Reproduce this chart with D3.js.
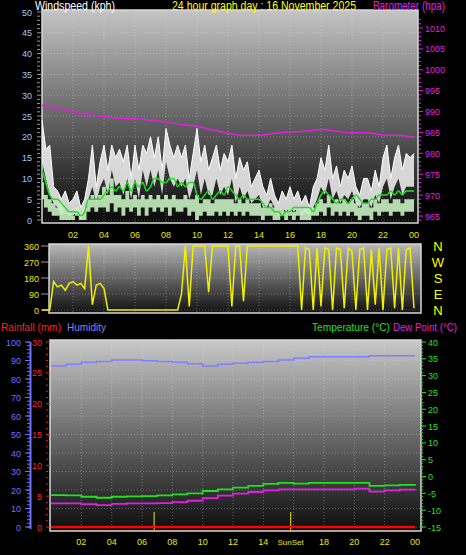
<!DOCTYPE html><html><head><script src="https://cdn.jsdelivr.net/npm/d3@7"></script>
<style>body{margin:0;background:#000}</style></head><body><svg id="c" width="466" height="555"></svg>
<script>
const hourTicks=["02","04","06","08","10","12","14","16","18","20","22","00"];
const gust=[24,17,18,8, 7,5,7,4, 5,7,3,5, 10,18,8,14, 18,12,18,15, 17,14,18,10, 18,12,18,16, 20,15,20,12, 22,18,15,18, 15,18,10,16, 22,14,18,12, 15,18,12,16, 14,18,10,15, 12,14,8,10, 12,8,6,10, 6,4,7,5, 8,5,7,4, 6,3,8,10, 15,12,18,10, 13,8,12,10, 13,8,6,10, 10,7,12,8, 15,18,10,15, 18,12,16,15,16];
const gustLow=[14,10,6,4, 3,1,2,1, 1,2,0,2, 5,8,4,8, 10,6,12,8, 9,6,10,5, 10,5,12,8, 12,8,12,6, 14,10,8,10, 8,10,5,8, 12,6,10,6, 6,10,6,8, 6,10,4,8, 5,7,4,5, 6,3,3,5, 3,1,3,2, 3,2,3,1, 2,1,3,5, 8,6,10,5, 7,4,6,5, 7,4,3,5, 5,3,6,4, 8,10,5,8, 10,6,8,8,8];
const avgHi=[9,6,5,4, 3,4,2,2, 1,3,1,3, 5,6,5,6, 8,6,10,6, 6,5,7,5, 6,5,6,5, 6,5,6,5, 6,5,6,5, 5,6,5,5, 6,4,5,5, 4,5,5,5, 5,5,4,5, 4,5,4,4, 4,3,3,4, 3,2,3,2, 3,2,3,2, 3,2,3,4, 5,4,6,4, 5,4,5,4, 5,4,3,4, 4,3,5,4, 5,5,4,5, 5,4,5,5,5];
const avgLo=[5,3,2,1, 1,0,0,0, 0,1,0,0, 2,3,2,3, 3,2,4,2, 3,1,3,2, 3,1,3,1, 3,2,3,2, 3,1,3,2, 2,3,1,2, 0,1,2,1, 1,2,1,2, 1,2,1,2, 1,2,1,1, 1,0,1,1, 0,0,1,0, 1,0,1,0, 0,0,1,1, 2,1,3,1, 2,1,2,1, 2,1,0,1, 1,0,2,1, 2,2,1,2, 2,1,2,2,2];
const windAvg=[12,9,6,5, 5,4,3,2, 2,2,1,2, 5,5,5,5, 6,7,8,7, 8,7,9,7, 9,8,9,7, 8,10,10,9, 9,10,10,8, 9,8,9,9, 6,5,6,7, 5,6,7,6, 8,7,6,5, 6,5,5,5, 5,4,3,3, 2,2,1,2, 2,3,3,3, 3,3,2,4, 6,7,6,5, 4,5,5,4, 5,6,5,4, 4,5,5,6, 6,6,7,6, 7,6,7,7,7];
const baro=[991.5,990.7,990,989.3,988.8,988.4,988.3,988,987.5,986.9,986.5,985.6,984.8,984.3,984.3,984.8,985.1,985.3,985.7,985.3,984.9,984.9,984.4,984.3,983.8];
const wdir=[0,0,0,160,130,140,110,150,160,140,150,120,360,30,140,150,120,0,0,0,0,0,0,0,0,0,0,0,0,0,0,0,0,0,0,0,90,360,20,360,360,360,360,100,360,360,360,360,360,20,360,360,50,360,360,360,360,360,360,360,360,360,360,360,360,360,360,0,350,340,0,350,20,350,340,0,350,340,10,350,330,0,340,350,0,340,30,350,0,340,350,10,350,0,340,350,10];
const hum=[87,88,89,89.5,90.3,90.3,89.8,89.5,89,88.3,87,88,88.5,89,89.5,90.3,91.2,92,92,92,92,92.6,92.6,92.6,92.6];
const temp=[-5.5,-5.6,-6.0,-6.3,-6.0,-5.9,-5.8,-5.6,-5.3,-5.0,-4.3,-3.8,-3.3,-2.8,-2.2,-1.9,-2.1,-1.9,-1.9,-1.9,-1.9,-2.8,-2.6,-2.5,-2.2];
const dew=[-8,-8,-8.2,-8.5,-8.1,-8,-8,-7.9,-7.6,-7.2,-6.4,-5.7,-5.1,-4.6,-4.1,-3.8,-3.8,-3.8,-3.8,-3.8,-3.6,-4.5,-4.1,-3.9,-3.8];
const rain=[0,0,0,0,0,0,0,0,0,0,0,0,0,0,0,0,0,0,0,0,0,0,0,0,0];
const sunTimes=[6.8,15.8];

const svg=d3.select("#c");
const F="Arial, 'Liberation Sans', sans-serif";
const defs=svg.append("defs");
function grad(id,top,bot){const g=defs.append("linearGradient").attr("id",id).attr("x1",0).attr("y1",0).attr("x2",0).attr("y2",1);
g.append("stop").attr("offset",0).attr("stop-color",top);g.append("stop").attr("offset",1).attr("stop-color",bot);}
grad("g1","#c4c4c4","#080808");grad("g2","#b8b8b8","#101010");grad("g3","#c8c8c8","#0c0c0c");
function panel(x0,x1,y0,y1,gid){svg.append("rect").attr("x",x0).attr("y",y0).attr("width",x1-x0).attr("height",y1-y0).attr("fill",`url(#${gid})`).attr("stroke","#d8d8d8").attr("stroke-width",1.5);}
function label(x,y,t,col,len,size,anchor){svg.append("text").attr("x",x).attr("y",y).attr("fill",col).attr("font-size",size||12).attr("font-family",F)
 .attr("text-anchor",anchor||"start").attr("textLength",len).attr("lengthAdjust","spacingAndGlyphs").text(t);}
const hrs=d3.range(25);const q=d3.range(97).map(i=>i/4);
function hourAxis(x,y,skip){hourTicks.forEach((t,i)=>{const h=(i+1)*2;if(skip&&h===16)return;
 svg.append("text").attr("x",x(h)).attr("y",y).attr("text-anchor","middle").attr("fill","#e8e800").attr("font-size",9).attr("font-family",F).text(t);});}
function vgrid(x,y0,y1){hrs.forEach(h=>{if(h%2||h==0||h==24)return;svg.append("line").attr("x1",x(h)).attr("x2",x(h)).attr("y1",y0).attr("y2",y1).attr("stroke","#e0e0e0").attr("stroke-opacity",0.35).attr("stroke-dasharray","1,2");});}

// ---- top panel
const x1=d3.scaleLinear().domain([0,24]).range([42,414]);
const yw=d3.scaleLinear().domain([0,50]).range([220,12]);
const yb=d3.scaleLinear().domain([965,1010]).range([216,28]);
panel(42,418,10,223,"g1");
d3.range(0,51,5).forEach(v=>{svg.append("line").attr("x1",42).attr("x2",418).attr("y1",yw(v)).attr("y2",yw(v)).attr("stroke","#e0e0e0").attr("stroke-opacity",0.3).attr("stroke-dasharray","1,2");
 svg.append("text").attr("x",32).attr("y",yw(v)+3.5).attr("text-anchor","end").attr("fill","#a8c8f0").attr("font-size",9).attr("font-family",F).text(v);});
d3.range(0,51,1).forEach(v=>svg.append("line").attr("x1",37).attr("x2",v%5?40:42).attr("y1",yw(v)).attr("y2",yw(v)).attr("stroke","#999"));
d3.range(965,1011,5).forEach(v=>svg.append("text").attr("x",425).attr("y",yb(v)+3.5).attr("fill","#e020e0").attr("font-size",9).attr("font-family",F).text(v));
d3.range(963,1013,1).forEach(v=>{if(yb(v)>12&&yb(v)<222)svg.append("line").attr("x1",419).attr("x2",v%5?421:423).attr("y1",yb(v)).attr("y2",yb(v)).attr("stroke","#e020e0");});
vgrid(x1,11,222);
svg.append("path").datum(q).attr("fill","#f4f4f4").attr("fill-opacity",0.85)
 .attr("d",d3.area().x(h=>x1(h)).y0((h,i)=>yw(gustLow[i])).y1((h,i)=>yw(gust[i])));
svg.append("path").datum(q).attr("fill","none").attr("stroke","#ffffff").attr("stroke-width",1)
 .attr("d",d3.line().x(h=>x1(h)).y((h,i)=>yw(gust[i])));
svg.append("path").datum(q).attr("fill","#c8f0c0").attr("fill-opacity",0.9)
 .attr("d",d3.area().curve(d3.curveStep).x(h=>x1(h)).y0((h,i)=>yw(avgLo[i])).y1((h,i)=>yw(avgHi[i])));
svg.append("path").datum(q).attr("fill","none").attr("stroke","#20e020").attr("stroke-width",1.5)
 .attr("d",d3.line().curve(d3.curveMonotoneX).x(h=>x1(h)).y((h,i)=>yw(windAvg[i])));
svg.append("path").datum(hrs).attr("fill","none").attr("stroke","#e020e0").attr("stroke-width",1.5)
 .attr("d",d3.line().curve(d3.curveMonotoneX).x(h=>x1(h)).y((h,i)=>yb(baro[i])));
hourAxis(x1,238);
label(35,10,"Windspeed (kph)","#fff",80);
label(172,10,"24 hour graph day : 16 November 2025","#ffff00",184);
label(373,10,"Barometer (hpa)","#e020e0",72);

// ---- middle panel
const yd=d3.scaleLinear().domain([0,360]).range([310,246]);
panel(49,421,244,313,"g2");
[0,90,180,270,360].forEach(v=>{svg.append("line").attr("x1",49).attr("x2",421).attr("y1",yd(v)).attr("y2",yd(v)).attr("stroke","#e0e0e0").attr("stroke-opacity",0.3).attr("stroke-dasharray","1,2");
 svg.append("text").attr("x",39).attr("y",yd(v)+3.5).attr("text-anchor","end").attr("fill","#e8e800").attr("font-size",9).attr("font-family",F).text(v);
 svg.append("line").attr("x1",41).attr("x2",48).attr("y1",yd(v)).attr("y2",yd(v)).attr("stroke","#999");});
vgrid(x1,245,312);
svg.append("path").datum(q).attr("fill","none").attr("stroke","#f0f000").attr("stroke-width",1.5)
 .attr("d",d3.line().x(h=>x1(h)).y((h,i)=>yd(wdir[i])));
["N","W","S","E","N"].forEach((t,i)=>svg.append("text").attr("x",438).attr("y",yd(360-i*90)+5).attr("text-anchor","middle").attr("fill","#ffff00").attr("font-size",13).attr("font-family",F).text(t));

// ---- bottom panel
const x3=d3.scaleLinear().domain([0,24]).range([51,415]);
const yh=d3.scaleLinear().domain([0,100]).range([527,342]);
const yr=d3.scaleLinear().domain([0,30]).range([527,342]);
const yt=d3.scaleLinear().domain([-15,40]).range([527,342]);
panel(50,421,340,531,"g3");
d3.range(0,101,10).forEach(v=>{svg.append("line").attr("x1",50).attr("x2",421).attr("y1",yh(v)).attr("y2",yh(v)).attr("stroke","#e0e0e0").attr("stroke-opacity",0.3).attr("stroke-dasharray","1,2");
 svg.append("text").attr("x",21).attr("y",yh(v)+3.5).attr("text-anchor","end").attr("fill","#7070ff").attr("font-size",9).attr("font-family",F).text(v);
 svg.append("line").attr("x1",25).attr("x2",30).attr("y1",yh(v)).attr("y2",yh(v)).attr("stroke","#7070ff");});
d3.range(0,101,2).forEach(v=>svg.append("line").attr("x1",27).attr("x2",30).attr("y1",yh(v)).attr("y2",yh(v)).attr("stroke","#7070ff"));
svg.append("line").attr("x1",30.5).attr("x2",30.5).attr("y1",342).attr("y2",529).attr("stroke","#7070ff").attr("stroke-width",2);
d3.range(0,31,5).forEach(v=>svg.append("text").attr("x",42).attr("y",yr(v)+3.5).attr("text-anchor","end").attr("fill","#ff2020").attr("font-size",9).attr("font-family",F).text(v));
d3.range(0,31,1).forEach(v=>svg.append("line").attr("x1",46).attr("x2",v%5?48:50).attr("y1",yr(v)).attr("y2",yr(v)).attr("stroke","#e02020"));
d3.range(-15,41,5).forEach(v=>{svg.append("text").attr("x",428).attr("y",yt(v)+3.5).attr("fill","#20e020").attr("font-size",9).attr("font-family",F).text(v);
 svg.append("line").attr("x1",421).attr("x2",426).attr("y1",yt(v)).attr("y2",yt(v)).attr("stroke","#20e020");});
d3.range(-15,41,1).forEach(v=>svg.append("line").attr("x1",421).attr("x2",423).attr("y1",yt(v)).attr("y2",yt(v)).attr("stroke","#20e020"));
vgrid(x3,341,530);
sunTimes.forEach(s=>svg.append("line").attr("x1",x3(s)).attr("x2",x3(s)).attr("y1",512).attr("y2",531).attr("stroke","#c8c800").attr("stroke-width",1.2));
svg.append("path").datum(hrs).attr("fill","none").attr("stroke","#8080ff").attr("stroke-width",1.5).attr("d",d3.line().curve(d3.curveStepAfter).x(h=>x3(h)).y((h,i)=>yh(hum[i])));
svg.append("path").datum(hrs).attr("fill","none").attr("stroke","#20e020").attr("stroke-width",1.8).attr("d",d3.line().curve(d3.curveStepAfter).x(h=>x3(h)).y((h,i)=>yt(temp[i])));
svg.append("path").datum(hrs).attr("fill","none").attr("stroke","#e020e0").attr("stroke-width",1.8).attr("d",d3.line().curve(d3.curveStepAfter).x(h=>x3(h)).y((h,i)=>yt(dew[i])));
svg.append("path").datum(hrs).attr("fill","none").attr("stroke","#ff0000").attr("stroke-width",2.5).attr("d",d3.line().x(h=>x3(h)).y((h,i)=>yr(rain[i])));
hourAxis(x3,545,true);
svg.append("text").attr("x",x3(15.8)).attr("y",545).attr("text-anchor","middle").attr("fill","#e8e800").attr("font-size",8).attr("font-family",F).text("SunSet");
label(1,331,"Rainfall (mm)","#ff2020",60,11);
label(67,331,"Humidity","#8080ff",39,11);
label(312,331,"Temperature (°C)","#20e020",78,11);
label(393,331,"Dew Point (°C)","#e020e0",64,11);
</script></body></html>
